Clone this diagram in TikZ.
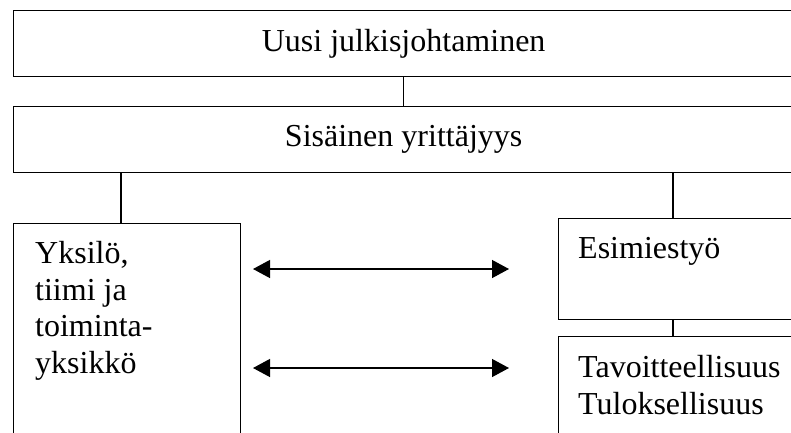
\documentclass[tikz,border=0pt]{standalone}
\usepackage{fontspec}
\setmainfont{Liberation Serif}
\usetikzlibrary{positioning,arrows.meta,calc}

\begin{document}
\begin{tikzpicture}[
    x=1pt, y=-1pt,
    block/.style={rectangle, draw=black, line width=1.3pt, inner sep=0pt,
                  anchor=north west, font=\fontsize{32}{36.7}\selectfont},
    txt/.style={inner sep=0pt, anchor=north west, align=left,
                font=\fontsize{32}{36.7}\selectfont},
    link/.style={line width=1.3pt, black},
    arrow/.style={{Triangle[length=17pt,width=18pt]}-{Triangle[length=17pt,width=18pt]},
                  line width=1.3pt, black}
]
\useasboundingbox (0,0) rectangle (791,432);
\clip (0,0) rectangle (791,432);

% Blocks
\node[block, minimum width=780pt, minimum height=66pt] (uusi) at (13,10) {Uusi julkisjohtaminen};
\node[block, minimum width=780pt, minimum height=66pt] (sisainen) at (13,106) {Sis\"ainen yritt\"ajyys};
\node[block, minimum width=227pt, minimum height=240pt] (yksilo) at (13,223) {};
\node[block, minimum width=240pt, minimum height=101pt] (esimies) at (558,218) {};
\node[block, minimum width=240pt, minimum height=120pt] (tavoite) at (558,336) {};

% Texts
\node[txt] (yksilotxt) at (35,241) {Yksil\"o,\\tiimi ja\\toiminta-\\yksikk\"o};
\node[txt] (esimiestxt) at (578,237) {Esimiesty\"o};
\node[txt] (tavoitetxt) at (578,355) {Tavoitteellisuus\\Tuloksellisuus};

% Links
\draw[link] (uusi.south) -- (sisainen.north);
\draw[link] ([xshift=108pt]yksilo.north west) -- ([xshift=108pt]yksilo.north west |- sisainen.south);
\draw[link] ([xshift=115pt]esimies.north west) -- ([xshift=115pt]esimies.north west |- sisainen.south);
\draw[link] ([xshift=115pt]tavoite.north west) -- ([xshift=115pt]esimies.south west);

% Arrows
\coordinate (a1) at (253,269);
\coordinate (b1) at (509,269);
\coordinate (a2) at (253,368);
\coordinate (b2) at (509,368);
\draw[arrow] (a1) -- (b1);
\draw[arrow] (a2) -- (b2);

\end{tikzpicture}
\end{document}
